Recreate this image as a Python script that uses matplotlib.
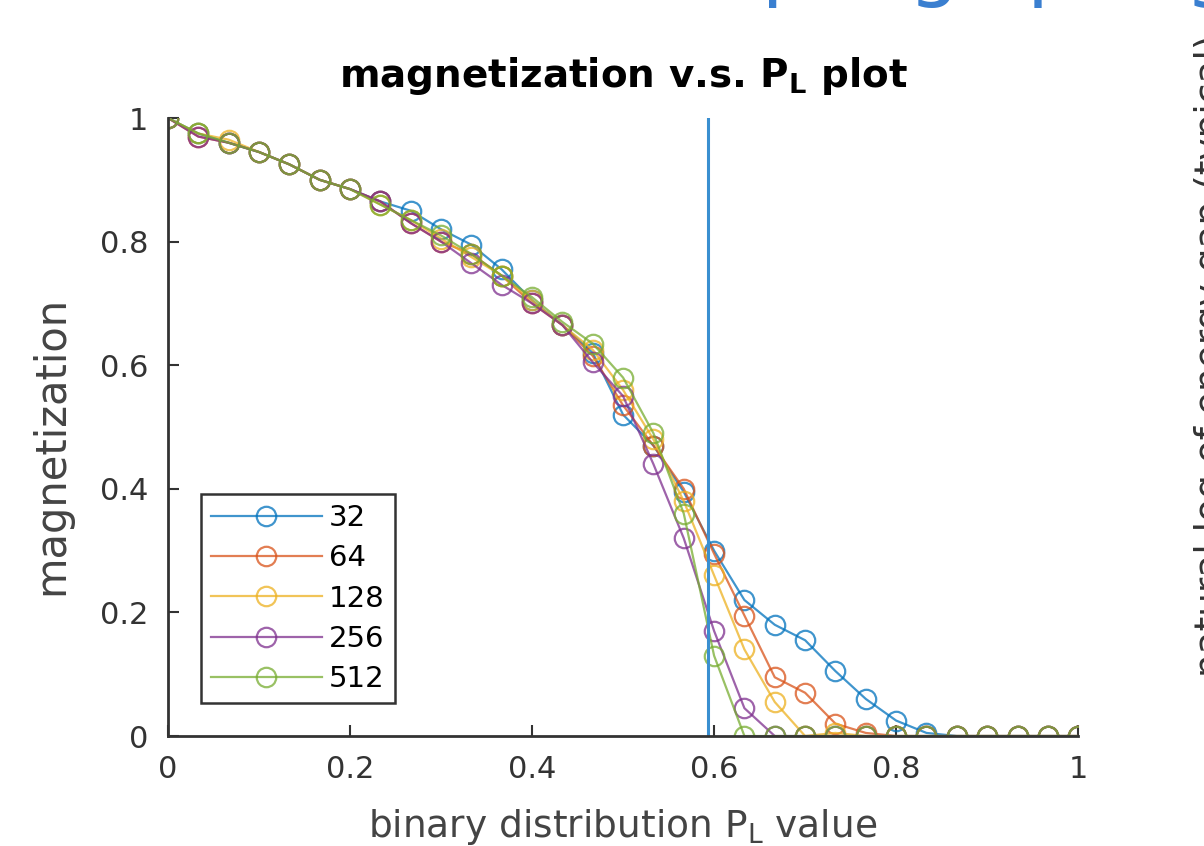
import matplotlib.pyplot as plt
import numpy as np

plt.rcParams['font.family'] = ['DejaVu Sans']

p_values = np.arange(31) / 30.0
sizes = ["32", "64", "128", "256", "512"]

mag_32 = [1.0, 0.975, 0.96, 0.945, 0.925, 0.90, 0.885, 0.865, 0.85, 0.82, 0.795, 0.755,
          0.705, 0.665, 0.62, 0.52, 0.47, 0.395, 0.30, 0.22, 0.18, 0.155, 0.105, 0.06,
          0.025, 0.005, 0, 0, 0, 0, 0]
mag_64 = [1.0, 0.97, 0.96, 0.945, 0.925, 0.90, 0.885, 0.865, 0.83, 0.80, 0.78, 0.745,
          0.70, 0.665, 0.615, 0.535, 0.47, 0.40, 0.295, 0.195, 0.095, 0.07, 0.02, 0.005,
          0, 0, 0, 0, 0, 0, 0]
mag_128 = [1.0, 0.975, 0.965, 0.945, 0.925, 0.90, 0.885, 0.86, 0.835, 0.805, 0.775, 0.745,
           0.705, 0.665, 0.625, 0.56, 0.48, 0.38, 0.26, 0.14, 0.055, 0.0, 0.005, 0,
           0, 0, 0, 0, 0, 0, 0]
mag_256 = [1.0, 0.97, 0.96, 0.945, 0.925, 0.90, 0.885, 0.865, 0.83, 0.80, 0.765, 0.73,
           0.70, 0.665, 0.605, 0.55, 0.44, 0.32, 0.17, 0.045, 0.0, 0, 0, 0,
           0, 0, 0, 0, 0, 0, 0]
mag_512 = [1.0, 0.975, 0.96, 0.945, 0.925, 0.90, 0.885, 0.86, 0.835, 0.81, 0.78, 0.745,
           0.71, 0.67, 0.635, 0.58, 0.49, 0.36, 0.13, 0.0, 0.0, 0, 0, 0,
           0, 0, 0, 0, 0, 0, 0]
p_critical = 0.593

series = [mag_32, mag_64, mag_128, mag_256, mag_512]
colors = ["#0072BD", "#D95319", "#EDB120", "#7E2F8E", "#77AC30"]

fig = plt.figure(figsize=(12.04, 8.46), dpi=100)
ax = fig.add_axes([0.1395, 0.130, 0.756, 0.7305])

for vals, c, lab in zip(series, colors, sizes):
    ax.plot(p_values, vals, '-o', color=c, mfc='none', mec=c, markersize=14,
            markeredgewidth=1.6, linewidth=1.6, alpha=0.75, label=lab)

ax.plot([p_critical, p_critical], [0, 1], color="#3A8FD0", linewidth=2.2)

ax.set_xlim(0, 1)
ax.set_ylim(0, 1)
ax.set_xticks([0, 0.2, 0.4, 0.6, 0.8, 1])
ax.set_xticklabels(["0", "0.2", "0.4", "0.6", "0.8", "1"])
ax.set_yticks([0, 0.2, 0.4, 0.6, 0.8, 1])
ax.set_yticklabels(["0", "0.2", "0.4", "0.6", "0.8", "1"])
ax.tick_params(direction='in', length=8, width=1.5, labelsize=22, colors='#333333',
               pad=14)
ax.spines['top'].set_visible(False)
ax.spines['right'].set_visible(False)
for s in ['left', 'bottom']:
    ax.spines[s].set_linewidth(2)
    ax.spines[s].set_color('#333333')

ax.set_title(r"magnetization v.s. $\mathbf{P_L}$ plot", fontsize=28,
             fontweight='bold', pad=22)
ax.set_xlabel(r"binary distribution P$_\mathrm{L}$ value", fontsize=27,
              color='#444444', labelpad=16)
ax.set_ylabel("magnetization", fontsize=30, color='#444444')
ax.yaxis.set_label_coords(-0.105, 0.47)

leg = ax.legend(loc='lower left', bbox_to_anchor=(0.036, 0.053), borderaxespad=0,
                fontsize=21, handlelength=3.8, handletextpad=0.25, borderpad=0.35,
                labelspacing=0.42, fancybox=False, framealpha=1)
leg.get_frame().set_edgecolor('#333333')
leg.get_frame().set_linewidth(1.8)

# cut-off text around the screenshot edges
fig.text(0.484, 1.011, "Sampling spring", fontsize=58, color="#3A7FD0",
         ha='left', va='baseline')
fig.text(0.9915, 0.2, "natural log of energy gap (typical)", fontsize=27,
         color='#333333', rotation=90, ha='left', va='bottom')

fig.savefig("out.png", dpi=100)
